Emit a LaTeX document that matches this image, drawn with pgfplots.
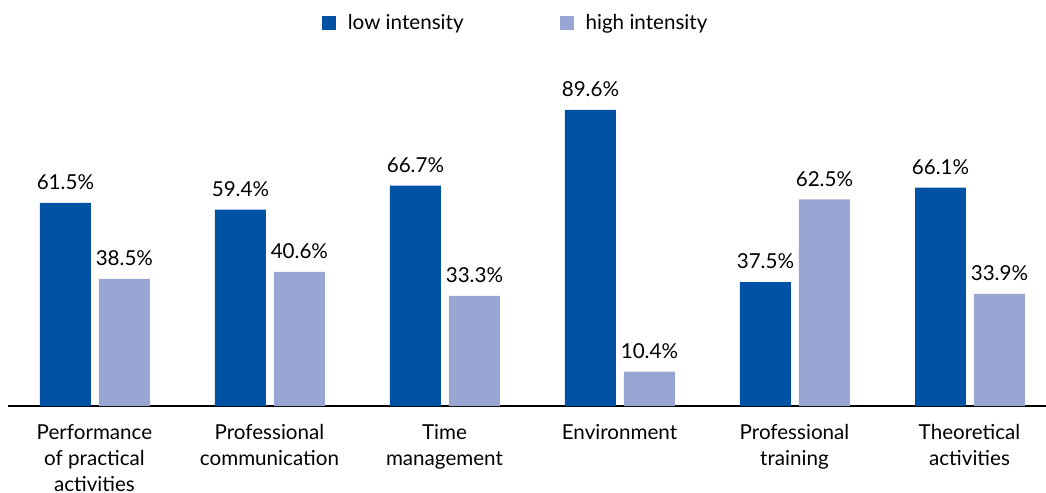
\documentclass[border=0pt]{standalone}
\usepackage{pgfplots}
\pgfplotsset{compat=1.18}
\usepackage{fontspec}
\setmainfont{Lato}
\definecolor{lowint}{RGB}{0,82,164}
\definecolor{highint}{RGB}{153,166,212}
\begin{document}
\fontsize{10.3}{13}\selectfont
\begin{tikzpicture}
\path[use as bounding box] (-4pt,-43.5pt) rectangle (519pt,203pt);
\begin{axis}[
    at={(0,0)}, anchor=south west,
    scale only axis,
    width=519pt, height=173pt,
    xmin=-0.494, xmax=5.437,
    ymin=0, ymax=104.7,
    axis x line*=bottom,
    axis y line=none,
    x axis line style={black, line width=0.8pt, -},
    xtick={0,1,2,3,4,5},
    xtick style={draw=none},
    xticklabels={{Performance\\of practical\\activities},{Professional\\communication},{Time\\management},{Environment},{Professional\\training},{Theoretical\\activities}},
    xticklabel style={align=center, font=\fontsize{10.3}{13}\selectfont, yshift=-5.5pt},
    ytick=\empty,
    /pgf/number format/assume math mode=true,
    bar width=0.291,
    bar shift=0pt,
    nodes near coords={\pgfmathprintnumber[fixed,precision=1,fixed zerofill]{\pgfplotspointmeta}\%},
    nodes near coords style={font=\fontsize{10.3}{13}\selectfont, black, yshift=3pt},
    point meta=explicit,
    legend style={at={(0.49,1.055)}, anchor=south, draw=none, legend columns=2,
        font=\fontsize{10.3}{13}\selectfont,
        /tikz/every even column/.append style={column sep=46pt}},
    legend image code/.code={\fill (0pt,-3.5pt) rectangle (7pt,3.5pt); \path (11pt,0pt);},
]
\addplot[ybar, fill=lowint, draw=none]
  coordinates {(-0.166,61.5) [61.5] (0.834,59.4) [59.4] (1.834,66.7) [66.7] (2.834,89.6) [89.6] (3.834,37.5) [37.5] (4.834,66.1) [66.1]};
\addlegendentry{low intensity}
\addplot[ybar, fill=highint, draw=none]
  coordinates {(0.171,38.5) [38.5] (1.171,40.6) [40.6] (2.171,33.3) [33.3] (3.171,10.4) [10.4] (4.171,62.5) [62.5] (5.171,33.9) [33.9]};
\addlegendentry{high intensity}
\end{axis}
\end{tikzpicture}
\end{document}
